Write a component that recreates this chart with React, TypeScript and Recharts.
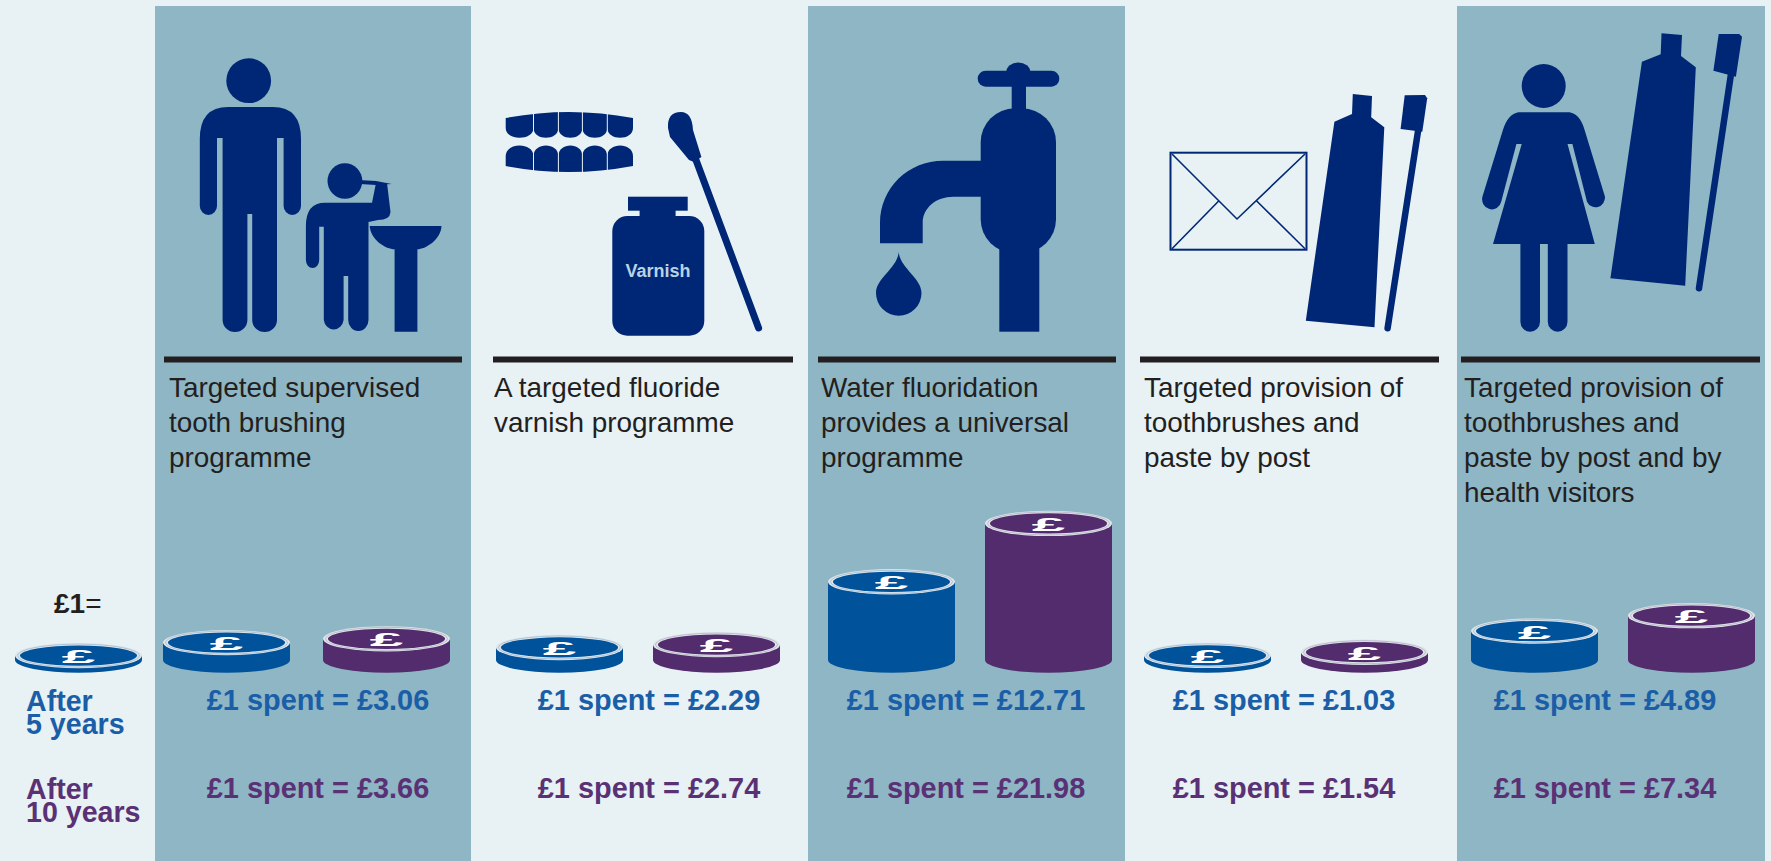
import { BarChart, Bar, XAxis, YAxis } from 'recharts';

const programmes = [
  ['Targeted supervised', 'tooth brushing', 'programme'],
  ['A targeted fluoride', 'varnish programme'],
  ['Water fluoridation', 'provides a universal', 'programme'],
  ['Targeted provision of', 'toothbrushes and', 'paste by post'],
  ['Targeted provision of', 'toothbrushes and', 'paste by post and by', 'health visitors'],
];
const after5Years = [3.06, 2.29, 12.71, 1.03, 4.89];
const after10Years = [3.66, 2.74, 21.98, 1.54, 7.34];
const referenceValue = [1];

const BLUE = '#00529b';
const PURPLE = '#532c6d';
const ICON = '#002776';
const PALE = '#e8f1f4';
const BAND = '#8eb6c5';
const TEXT_BLUE = '#1a5ea8';
const TEXT_PURPLE = '#5a3175';

// panel layout, in page pixels
const bands = [[155, 316], [808, 317], [1457, 308]];
const rules = [[164, 298], [493, 300], [818, 298], [1140, 299], [1461, 299]];
const textX = [169, 494, 821, 1144, 1464];
const labelX = [318, 649, 966, 1284, 1605];
const coinLeft = [163, 496, 828, 1144, 1471];
const coinGap = [33, 30, 30, 30, 30];

const COIN_W = 127;
const BASE_Y = 660;
const Y_DOMAIN = [0.3, 105.06];
const CHART_H = 861;

function Coin(props: any) {
  const { x, y, width, height, fill } = props;
  const rx = width / 2;
  const ry = 12.7;
  const cx = x + rx;
  return (
    <g>
      <path d={`M${x} ${y}V${y + height}A${rx} ${ry} 0 0 0 ${x + width} ${y + height}V${y}Z`} fill={fill} />
      <ellipse cx={cx} cy={y} rx={rx} ry={ry} fill="#dfe6ea" />
      <ellipse cx={cx} cy={y} rx={rx - 2.5} ry={ry - 1.2} fill="none" stroke={fill} strokeWidth={0.5} opacity={0.45} />
      <ellipse cx={cx} cy={y} rx={rx - 5} ry={ry - 2.6} fill={fill} />
      <text
        transform={`translate(${cx} ${y + 7.5}) scale(3 0.95)`}
        textAnchor="middle"
        fontFamily="Liberation Sans"
        fontWeight="700"
        fontSize={20}
        fill="#fff"
      >
        £
      </text>
    </g>
  );
}

function CoinPanel({ left, gap, i }: { left: number; gap: number; i: number }) {
  const row = [{ name: programmes[i][0], after5: after5Years[i], after10: after10Years[i] }];
  // the extra 2px stops recharts dropping barGap when the bars fill the band exactly
  return (
    <div style={{ position: 'absolute', left: left - 1, top: 0 }}>
      <BarChart
        width={COIN_W * 2 + gap + 2}
        height={CHART_H}
        data={row}
        margin={{ top: 0, right: 0, bottom: CHART_H - BASE_Y, left: 0 }}
        barCategoryGap={0}
        barGap={gap}
        barSize={COIN_W}
      >
        <XAxis dataKey="name" hide />
        <YAxis hide domain={Y_DOMAIN} />
        <Bar dataKey="after5" fill={BLUE} shape={Coin} isAnimationActive={false} />
        <Bar dataKey="after10" fill={PURPLE} shape={Coin} isAnimationActive={false} />
      </BarChart>
    </div>
  );
}

function ReferenceCoin() {
  return (
    <div style={{ position: 'absolute', left: 14, top: 0 }}>
      <BarChart
        width={COIN_W + 2}
        height={CHART_H}
        data={[{ name: '£1', value: referenceValue[0] }]}
        margin={{ top: 0, right: 0, bottom: CHART_H - BASE_Y, left: 0 }}
        barCategoryGap={0}
        barSize={COIN_W}
      >
        <XAxis dataKey="name" hide />
        <YAxis hide domain={Y_DOMAIN} />
        <Bar dataKey="value" fill={BLUE} shape={Coin} isAnimationActive={false} />
      </BarChart>
    </div>
  );
}

function Teeth() {
  const edges = [505.7, 533.5, 558.4, 582.4, 607.3, 633];
  const upper = edges
    .slice(0, 5)
    .map((e, i) => `C${edges[5 - i]} 141 ${edges[4 - i]} 141 ${edges[4 - i]} 128`)
    .join('');
  const lower = edges
    .slice(0, 5)
    .map((e, i) => `C${edges[5 - i]} 142 ${edges[4 - i]} 142 ${edges[4 - i]} 156`)
    .join('');
  return (
    <g>
      <path d={`M505.7 118Q569 106 633 118V128${upper}Z`} fill={ICON} />
      <path d={`M505.7 166Q569 178 633 166V156${lower}Z`} fill={ICON} />
      {edges.slice(1, 5).map((e) => (
        <g key={e}>
          <line x1={e} x2={e} y1={110} y2={140} stroke={PALE} strokeWidth={1} />
          <line x1={e} x2={e} y1={144} y2={174} stroke={PALE} strokeWidth={1} />
        </g>
      ))}
    </g>
  );
}

function Icons() {
  return (
    <g fill={ICON}>
      {/* adult and child at the basin */}
      <circle cx={248.7} cy={80.7} r={22.4} />
      <path d="M199.8 139Q199.8 107 228 107H273Q301 107 301 139V206a8.7 9 0 0 1-17.4 0V138H277V320a12.4 12 0 0 1-24.8 0V214H247.4V320a12.4 12 0 0 1-24.8 0V138H217V206a8.6 9 0 0 1-17.2 0Z" />
      <ellipse cx={344.9} cy={181} rx={17.4} ry={17.8} />
      <path d="M358 180L376 181L391.7 184L376 185L360 184Z" />
      <path d="M305.9 226Q305.9 202.7 325 202.7H372L376 183H387L390.5 212Q390 220 378 220L368.5 222V320a10.15 11 0 0 1-20.3 0V276H343.6V320a10 11 0 0 1-19.8 0V226.7H319.2V260a6.6 8 0 0 1-13.3 0Z" />
      <path d="M369.7 226H441.5C441 240 425 249.3 417.4 249.3V331.7H394.6V249.3C386 249.3 370.5 240 369.7 226Z" />

      {/* teeth, swab and varnish jar */}
      <Teeth />
      <path d="M668 128Q667 112 681 112Q692 112 693 130L701.4 157L694 162L689 160L670 137Z" />
      <line x1={696} y1={160} x2={758.6} y2={328} stroke={ICON} strokeWidth={7} strokeLinecap="round" />
      <rect x={628} y={196.7} width={59.7} height={14} />
      <rect x={639.6} y={208} width={36} height={12} />
      <rect x={612.3} y={216} width={92} height={119.7} rx={15} />
      <text x={658} y={277} textAnchor="middle" fontFamily="Liberation Sans" fontWeight="700" fontSize={18} fill="#b9d3e5">
        Varnish
      </text>

      {/* tap */}
      <rect x={977.7} y={70.7} width={81.6} height={16} rx={8} />
      <ellipse cx={1018.3} cy={72} rx={12} ry={9.5} />
      <rect x={1011.7} y={80} width={14.3} height={32} />
      <rect x={980.7} y={108.3} width={75.3} height={145} rx={34} />
      <rect x={999.3} y={240} width={40} height={91.7} />
      <path d="M985 160.7H943.3C908 160.7 880 188 880 223.3V243.3H922.7V223C922.7 208 936 196.7 953.3 196.7H985Z" />
      <path d="M898.7 252C900 268 921.5 278 921.5 293A22.7 22.7 0 0 1 876 293C876 278 897.5 268 898.7 252Z" />

      {/* envelope */}
      <g fill="none" stroke={ICON}>
        <rect x={1170.5} y={152.7} width={136} height={97} strokeWidth={2} />
        <path d="M1172 154L1237 219L1305 154M1172 248.7L1218.7 201M1305 248.7L1256.7 201" strokeWidth={1.6} />
      </g>

      {/* toothpaste and brush, panel four */}
      <path d="M1352.8 94L1372 96L1371.2 117.3L1384.3 127.3L1374.5 327.3L1305.8 320.7L1334.4 121.7L1352 114Z" />
      <path d="M1404.7 95.3L1425 95L1427.2 98.3L1422.3 131.7L1400.6 129Z" />
      <line x1={1418.2} y1={130} x2={1387.6} y2={328.3} stroke={ICON} strokeWidth={6.5} strokeLinecap="round" />

      {/* woman, toothpaste and brush, panel five */}
      <circle cx={1543.7} cy={86} r={22} />
      <path d="M1518.4 112.3H1569.5Q1580 114 1584.6 130L1605 196.7A9.5 10 0 0 1 1587 201.7L1572.4 144H1567.5L1594.8 244H1567.5V321.7a9.85 10 0 0 1-19.7 0V244H1540V321.7a9.8 10 0 0 1-19.6 0V244H1493L1521.7 144H1516.4L1501.2 201.7A9.5 10 0 0 1 1482.4 196.7L1502.9 130Q1508 114 1518.4 112.3Z" />
      <path d="M1661.5 33.3L1682 35L1681 56L1695.8 67.3L1685.2 285.7L1610.4 278.3L1641.9 61.7L1660.7 54.3Z" />
      <path d="M1718.7 34L1739.2 34L1742 36.7L1735.9 76.7L1713.4 70.7Z" />
      <line x1={1731} y1={74} x2={1699} y2={288.3} stroke={ICON} strokeWidth={6.5} strokeLinecap="round" />
    </g>
  );
}

function Captions() {
  const side = { fontWeight: 700, fontSize: 28.6 };
  return (
    <g fontFamily="Liberation Sans">
      {rules.map(([x, w]) => (
        <rect key={x} x={x} y={356.5} width={w} height={6} fill="#231f20" />
      ))}
      {programmes.map((lines, i) =>
        lines.map((line, j) => (
          <text key={line + i} x={textX[i]} y={397 + j * 35} fontSize={27.9} fill="#231f20">
            {line}
          </text>
        )),
      )}
      {after5Years.map((v, i) => (
        <text key={i} x={labelX[i]} y={710} textAnchor="middle" fontWeight="700" fontSize={28.9} fill={TEXT_BLUE}>
          £1 spent = £{v.toFixed(2)}
        </text>
      ))}
      {after10Years.map((v, i) => (
        <text key={i} x={labelX[i]} y={798} textAnchor="middle" fontWeight="700" fontSize={28.9} fill={TEXT_PURPLE}>
          £1 spent = £{v.toFixed(2)}
        </text>
      ))}
      <text x={54} y={613} fontWeight="700" fontSize={28} fill="#231f20">
        £1<tspan fontWeight="400">=</tspan>
      </text>
      <text {...side} fill={TEXT_BLUE}>
        <tspan x={26} y={711}>After</tspan>
        <tspan x={26} y={734}>5 years</tspan>
      </text>
      <text {...side} fill={TEXT_PURPLE}>
        <tspan x={26} y={799}>After</tspan>
        <tspan x={26} y={822}>10 years</tspan>
      </text>
    </g>
  );
}

export default function App() {
  return (
    <div style={{ position: 'absolute', left: 0, top: 0, width: 1771, height: 861, overflow: 'hidden', background: PALE }}>
      <svg width={1771} height={861} style={{ position: 'absolute', left: 0, top: 0 }}>
        {bands.map(([x, w]) => (
          <rect key={x} x={x} y={6} width={w} height={855} fill={BAND} />
        ))}
        <Icons />
        <Captions />
      </svg>
      <ReferenceCoin />
      {coinLeft.map((left, i) => (
        <CoinPanel key={left} left={left} gap={coinGap[i]} i={i} />
      ))}
    </div>
  );
}
